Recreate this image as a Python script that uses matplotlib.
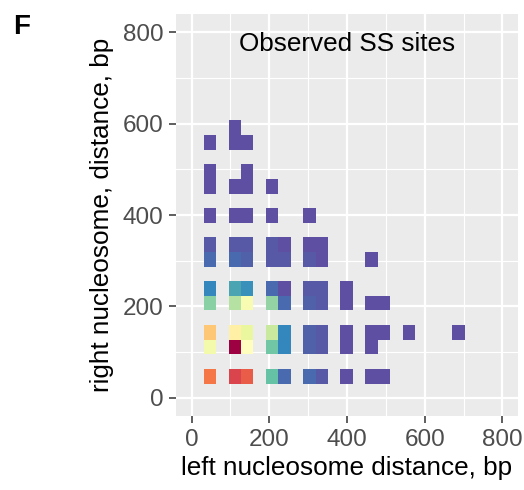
import numpy as np
import matplotlib
matplotlib.use("Agg")
import matplotlib.pyplot as plt
from matplotlib.ticker import MultipleLocator

plt.rcParams["font.family"] = ["Liberation Sans", "DejaVu Sans"]

# observed SS sites: distance to left / right nucleosome (bp) and site counts
left_dist = [47, 111, 143, 207, 239, 303, 335, 399, 463, 495,
             47, 111, 143, 207, 239, 303, 335, 399, 463,
             47, 111, 143, 207, 239, 303, 335, 399, 463, 495, 559, 687,
             47, 111, 143, 207, 239, 303, 335, 399, 463, 495,
             47, 111, 143, 207, 239, 303, 335, 399,
             47, 111, 143, 207, 239, 303, 335, 463,
             47, 111, 143, 207, 239, 303, 335,
             47, 111, 143, 207, 303,
             47, 111, 143, 207,
             47, 143,
             47, 111, 143,
             111]
right_dist = [47] * 10 + [111] * 9 + [143] * 12 + [207] * 10 + [239] * 8 \
    + [303] * 8 + [335] * 7 + [399] * 5 + [463] * 4 + [495] * 2 + [559] * 3 + [591]
n_sites = [48, 54, 51, 13, 4, 4, 2, 1, 1, 1,
           28, 61, 31, 14, 7, 3, 2, 1, 1,
           40, 34, 26, 22, 7, 3, 2, 1, 1, 1, 1, 1,
           16, 20, 29, 17, 4, 3, 2, 1, 1, 1,
           7, 10, 8, 4, 1, 2, 2, 1,
           4, 4, 3, 2, 2, 2, 1, 1,
           2, 2, 2, 2, 1, 1, 1,
           1, 1, 1, 1, 1,
           1, 1, 1, 1,
           1, 1,
           1, 1, 1,
           1]

ticks = [0, 200, 400, 600, 800]
edges = 31 + 32 * np.arange(23)

H, _, _ = np.histogram2d(left_dist, right_dist, bins=[edges, edges], weights=n_sites)
H = np.ma.masked_equal(H.T, 0)

fig = plt.figure(figsize=(5.24, 4.9), dpi=100)
ax = fig.add_axes([0.336, 0.151, 0.6525, 0.8204])
ax.set_facecolor("#EBEBEB")
ax.pcolormesh(edges, edges, H, cmap="Spectral_r", vmin=1, vmax=max(n_sites),
              zorder=2)

ax.set_xlim(-40, 840)
ax.set_ylim(-40, 840)
ax.set_xticks(ticks)
ax.set_yticks(ticks)
ax.xaxis.set_minor_locator(MultipleLocator(100))
ax.yaxis.set_minor_locator(MultipleLocator(100))
ax.grid(which="major", color="white", linewidth=1.6, zorder=0)
ax.grid(which="minor", color="white", linewidth=0.8, zorder=0)
ax.set_axisbelow(True)
for s in ax.spines.values():
    s.set_visible(False)
ax.tick_params(which="major", length=5, width=1.1, color="#333333",
               labelsize=17.5, labelcolor="#4D4D4D", pad=4)
ax.tick_params(which="minor", length=0)

ax.set_xlabel("left nucleosome distance, bp", fontsize=18.8, labelpad=4)
ax.set_ylabel("right nucleosome, distance, bp", fontsize=18.8, labelpad=6)
ax.text(400, 775, "Observed SS sites", ha="center", va="center", fontsize=18.8)
fig.text(0.025, 0.945, "F", fontsize=20, fontweight="bold", ha="left", va="center")

fig.savefig("out.png", dpi=100)
